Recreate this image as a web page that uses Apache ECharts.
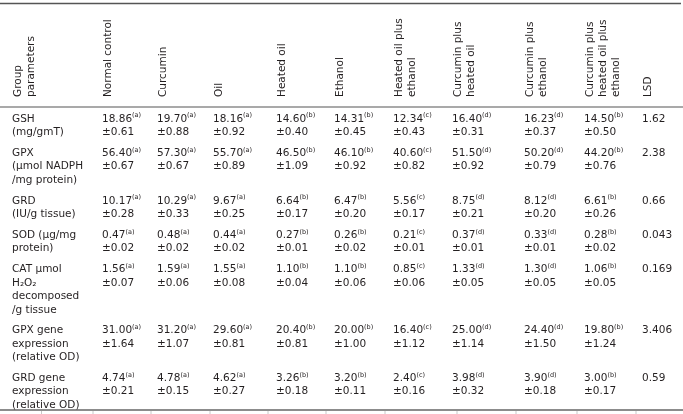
<!DOCTYPE html>
<html>
<head>
<meta charset="utf-8">
<script src="https://cdn.jsdelivr.net/npm/echarts@6/dist/echarts.min.js"></script>
<style>
  html, body { margin: 0; padding: 0; background: #fff; }
  #tabla { width: 683px; height: 414px; }
</style>
</head>
<body>
<div id="tabla"></div>
<script>
// datos de la tabla
const cabeceraParametro = 'Group\nparameters';
const grupos = ['Normal control', 'Curcumin', 'Oil', 'Heated oil', 'Ethanol',
  'Heated oil plus\nethanol', 'Curcumin plus\nheated oil', 'Curcumin plus\nethanol',
  'Curcumin plus\nheated oil plus\nethanol', 'LSD'];
const parametros = ['GSH\n(mg/gmT)', 'GPX\n(µmol NADPH\n/mg protein)', 'GRD\n(IU/g tissue)',
  'SOD (µg/mg\nprotein)', 'CAT µmol\nH₂O₂\ndecomposed\n/g tissue',
  'GPX gene\nexpression\n(relative OD)', 'GRD gene\nexpression\n(relative OD)'];
const letras = ['a', 'a', 'a', 'b', 'b', 'c', 'd', 'd', 'b'];

const gshMedia = [18.86, 19.70, 18.16, 14.60, 14.31, 12.34, 16.40, 16.23, 14.50];
const gshDe = [0.61, 0.88, 0.92, 0.40, 0.45, 0.43, 0.31, 0.37, 0.50];
const gpxMedia = [56.40, 57.30, 55.70, 46.50, 46.10, 40.60, 51.50, 50.20, 44.20];
const gpxDe = [0.67, 0.67, 0.89, 1.09, 0.92, 0.82, 0.92, 0.79, 0.76];
const grdMedia = [10.17, 10.29, 9.67, 6.64, 6.47, 5.56, 8.75, 8.12, 6.61];
const grdDe = [0.28, 0.33, 0.25, 0.17, 0.20, 0.17, 0.21, 0.20, 0.26];
const sodMedia = [0.47, 0.48, 0.44, 0.27, 0.26, 0.21, 0.37, 0.33, 0.28];
const sodDe = [0.02, 0.02, 0.02, 0.01, 0.02, 0.01, 0.01, 0.01, 0.02];
const catMedia = [1.56, 1.59, 1.55, 1.10, 1.10, 0.85, 1.33, 1.30, 1.06];
const catDe = [0.07, 0.06, 0.08, 0.04, 0.06, 0.06, 0.05, 0.05, 0.05];
const gpxGenMedia = [31.00, 31.20, 29.60, 20.40, 20.00, 16.40, 25.00, 24.40, 19.80];
const gpxGenDe = [1.64, 1.07, 0.81, 0.81, 1.00, 1.12, 1.14, 1.50, 1.24];
const grdGenMedia = [4.74, 4.78, 4.62, 3.26, 3.20, 2.40, 3.98, 3.90, 3.00];
const grdGenDe = [0.21, 0.15, 0.27, 0.18, 0.11, 0.16, 0.32, 0.18, 0.17];
const lsd = ['1.62', '2.38', '0.66', '0.043', '0.169', '3.406', '0.59'];

const medias = [gshMedia, gpxMedia, grdMedia, sodMedia, catMedia, gpxGenMedia, grdGenMedia];
const desvios = [gshDe, gpxDe, grdDe, sodDe, catDe, gpxGenDe, grdGenDe];

// disposicion
const W = 683, H = 414;
const colX = [12, 102, 157, 213, 276, 334, 393, 452, 524, 584, 642];
const bordesCol = [41.5, 93, 151, 210, 268, 326, 385, 457, 516, 577, 636];
const altoLinea = 13.5;
const separacion = 7.2;
const primeraLinea = 119;
const baseCabecera = 97;
const fuente = 'DejaVu Sans';
const colorTexto = '#231f20';

const inicioFila = [];
let acum = primeraLinea - altoLinea / 2;
parametros.forEach(p => {
  inicioFila.push(acum);
  const n = Math.max(2, p.split('\n').length);
  acum += n * altoLinea + separacion;
});

const estiloRich = {
  v: { fontFamily: fuente, fontSize: 10.5, lineHeight: altoLinea, fill: colorTexto },
  s: { fontFamily: fuente, fontSize: 6.5, lineHeight: 7, verticalAlign: 'top', fill: colorTexto }
};

function texto(api, x, y, str, extra) {
  const p = api.coord([x, y]);
  return Object.assign({
    type: 'text',
    x: p[0],
    y: p[1],
    style: {
      text: str,
      fontFamily: fuente,
      fontSize: 10.5,
      lineHeight: altoLinea,
      fill: colorTexto,
      align: 'left',
      verticalAlign: 'top'
    }
  }, extra || {});
}

function linea(api, x1, y1, x2, y2, color, ancho) {
  const a = api.coord([x1, y1]);
  const b = api.coord([x2, y2]);
  return {
    type: 'line',
    shape: { x1: a[0], y1: a[1], x2: b[0], y2: b[1] },
    style: { stroke: color, lineWidth: ancho }
  };
}

function renderCabecera(params, api) {
  const hijos = [];
  const titulos = [cabeceraParametro].concat(grupos);
  titulos.forEach((t, i) => {
    const el = texto(api, colX[i], baseCabecera, t);
    el.rotation = Math.PI / 2;
    el.style.lineHeight = 13;
    hijos.push(el);
  });
  hijos.push(linea(api, 0, 3.5, 681, 3.5, '#555', 1.4));
  hijos.push(linea(api, 0, 107, W, 107, '#555', 1.2));
  hijos.push(linea(api, 0, 410, W, 410, '#666', 1.4));
  bordesCol.forEach(x => hijos.push(linea(api, x, 411, x, 414, '#c8c8c8', 1)));
  return { type: 'group', children: hijos };
}

function renderFila(params, api) {
  const r = api.value(0);
  const y = inicioFila[r];
  const hijos = [texto(api, colX[0], y, parametros[r])];
  medias[r].forEach((m, c) => {
    const el = texto(api, colX[c + 1], y, '{v|' + m.toFixed(2) + '}{s|(' + letras[c] + ')}\n{v|±' + desvios[r][c].toFixed(2) + '}');
    el.style.rich = estiloRich;
    hijos.push(el);
  });
  hijos.push(texto(api, colX[10], y, lsd[r]));
  return { type: 'group', children: hijos };
}

const chart = echarts.init(document.getElementById('tabla'), null, { renderer: 'canvas' });
chart.setOption({
  animation: false,
  backgroundColor: '#fff',
  grid: { left: 0, right: 0, top: 0, bottom: 0 },
  xAxis: { type: 'value', min: 0, max: W, show: false },
  yAxis: { type: 'value', min: 0, max: H, inverse: true, show: false },
  series: [
    { type: 'custom', renderItem: renderCabecera, data: [[0]], silent: true },
    { type: 'custom', renderItem: renderFila, data: parametros.map((p, i) => [i]), silent: true }
  ]
});
</script>
</body>
</html>
